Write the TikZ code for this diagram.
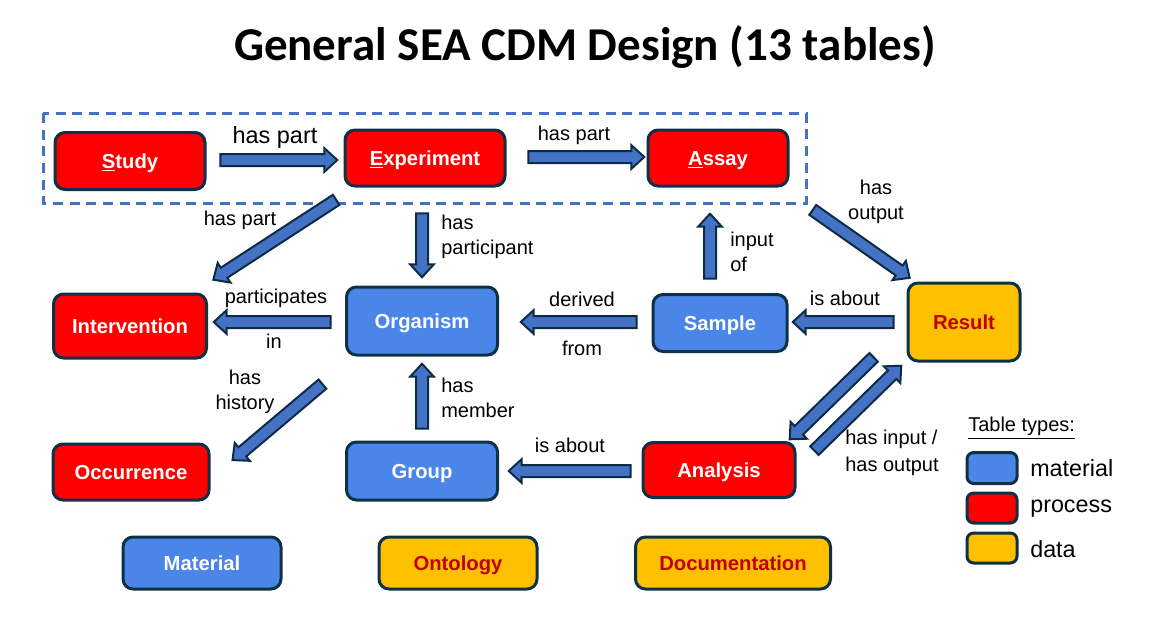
\documentclass[tikz,border=0pt]{standalone}
\usepackage{fontspec}
\setmainfont{Liberation Sans}
\newfontfamily\titlefont{Carlito}
\usetikzlibrary{shapes.arrows,calc}
\definecolor{bd}{HTML}{0F3148}
\definecolor{pr}{HTML}{FF0000}
\definecolor{ma}{HTML}{4A86E8}
\definecolor{da}{HTML}{FFC000}
\definecolor{dtext}{HTML}{C00000}
\definecolor{afill}{HTML}{4472C4}
\definecolor{abd}{HTML}{0D2B45}
\definecolor{dashcol}{HTML}{4472C4}
\tikzset{
  box/.style={draw=bd, line width=2.25pt, rounded corners=7.5pt, inner sep=0pt,
    text height=10.9pt, text depth=0pt,
    font=\bfseries\fontsize{15.2}{18}\selectfont},
  proc/.style={box, fill=pr, text=white},
  matl/.style={box, fill=ma, text=white},
  datb/.style={box, fill=da, text=dtext},
  sz/.style 2 args={minimum width=#1*0.75pt, minimum height=#2*0.75pt},
  lab/.style={inner sep=0pt, font=\fontsize{15}{19}\selectfont},
  leg/.style={inner sep=0pt, font=\fontsize{17.5}{21}\selectfont, anchor=west},
  blockarrow/.style={single arrow, draw=abd, fill=afill, line width=1.5pt,
    inner xsep=0pt, inner ysep=3.75pt, minimum width=0pt,
    single arrow head extend=4.3pt, single arrow tip angle=85,
    single arrow head indent=0pt},
}
\newcommand\barrow[2]{%
  \path let \p1=(#1), \p2=(#2), \n1={atan2(\y2-\y1,\x2-\x1)},
    \n2={veclen(\x2-\x1,\y2-\y1)} in
    node[blockarrow, minimum height=\n2, rotate=\n1] at ($(\p1)!0.5!(\p2)$) {};}
\begin{document}
\begin{tikzpicture}[x=0.75pt, y=-0.75pt]
\useasboundingbox (0,0) rectangle (1175,640);
% title
\node[inner sep=0pt, font=\titlefont\bfseries\fontsize{35.3}{40}\selectfont] (title) at (585,47) {General SEA CDM Design (13 tables)};
% dashed frame
\draw[dashcol, line width=2.25pt, dash pattern=on 7.5pt off 5pt] (43,113) rectangle (806,203);
% nodes
\node[proc, sz={150}{57}] (study) at (130,161) {\underline{S}tudy};
\node[proc, sz={160}{56}] (exp) at (425,158) {\underline{E}xperiment};
\node[proc, sz={140}{56}] (assay) at (718,158) {\underline{A}ssay};
\node[proc, sz={153}{64}] (interv) at (130,326) {Intervention};
\node[matl, sz={151}{68}] (org) at (422,321) {Organism};
\node[matl, sz={134}{57}] (sample) at (720,323) {Sample};
\node[datb, sz={112}{78}] (result) at (964,322) {Result};
\node[proc, sz={156}{56}] (occ) at (131,472) {Occurrence};
\node[matl, sz={151}{58}] (group) at (422,471) {Group};
\node[proc, sz={152}{55}] (analysis) at (719,470) {Analysis};
\node[matl, sz={158}{52}] (material) at (202,563) {Material};
\node[datb, sz={158}{52}] (ontology) at (458,563) {Ontology};
\node[datb, sz={195}{52}] (docu) at (733,563) {Documentation};
% legend
\node[lab, anchor=west] (legtitle) at (968,428) {\underline{Table types:}};
\node[box, fill=ma, sz={50}{31}, rounded corners=5pt] (lm) at (992,468) {};
\node[box, fill=pr, sz={50}{30}, rounded corners=5pt] (lp) at (992,508) {};
\node[box, fill=da, sz={50}{30}, rounded corners=5pt] (ld) at (992,548) {};
\node[leg] (lmt) at (1030,468) {material};
\node[leg] (lpt) at (1030,509) {process};
\node[leg] (ldt) at (1030,549) {data};
% arrow end points
\coordinate (a1s) at (217,160); \coordinate (a1e) at (334,160);
\coordinate (a2s) at (525,157); \coordinate (a2e) at (641,157);
\coordinate (a3s) at (339,198); \coordinate (a3e) at (216,278);
\coordinate (a4s) at (422,210); \coordinate (a4e) at (422,274);
\coordinate (a5s) at (810,208); \coordinate (a5e) at (907,276);
\coordinate (a6s) at (710,282); \coordinate (a6e) at (710,217);
\coordinate (a7s) at (640,322); \coordinate (a7e) at (524,322);
\coordinate (a8s) at (897,322); \coordinate (a8e) at (796,322);
\coordinate (a9s) at (334,322); \coordinate (a9e) at (217,322);
\coordinate (a10s) at (325,382); \coordinate (a10e) at (235,458);
\coordinate (a11s) at (422,432); \coordinate (a11e) at (422,367);
\coordinate (a12s) at (876,355); \coordinate (a12e) at (792,437);
\coordinate (a13s) at (812,453); \coordinate (a13e) at (899,368);
\coordinate (a14s) at (634,471); \coordinate (a14e) at (512,471);
\barrow{a1s}{a1e}
\barrow{a2s}{a2e}
\barrow{a3s}{a3e}
\barrow{a4s}{a4e}
\barrow{a5s}{a5e}
\barrow{a6s}{a6e}
\barrow{a7s}{a7e}
\barrow{a8s}{a8e}
\barrow{a9s}{a9e}
\barrow{a10s}{a10e}
\barrow{a11s}{a11e}
\barrow{a12s}{a12e}
\barrow{a13s}{a13e}
\barrow{a14s}{a14e}
% labels
\node[lab, font=\fontsize{17.6}{20}\selectfont] (l1) at (275,137) {has part};
\node[lab] (l2) at (574,135) {has part};
\node[lab] (l3) at (240,220) {has part};
\node[lab, align=left, anchor=west] (l4) at (441,237) {has\\participant};
\node[lab, align=center] (l5) at (876,202) {has\\output};
\node[lab, align=left, anchor=west] (l6) at (730,252) {input\\of};
\node[lab] (l7a) at (582,299) {derived};
\node[lab] (l7b) at (582,348) {from};
\node[lab] (l8) at (845,298) {is about};
\node[lab] (l9a) at (276,298) {participates};
\node[lab] (l9b) at (274,341) {in};
\node[lab, align=center] (l10) at (245,392) {has\\history};
\node[lab, align=left, anchor=west] (l11) at (441,398) {has\\member};
\node[lab, align=left, anchor=west, font=\fontsize{15}{20}\selectfont] (l12) at (845,453) {has input /\\has output};
\node[lab] (l14) at (570,445) {is about};
\end{tikzpicture}
\end{document}
